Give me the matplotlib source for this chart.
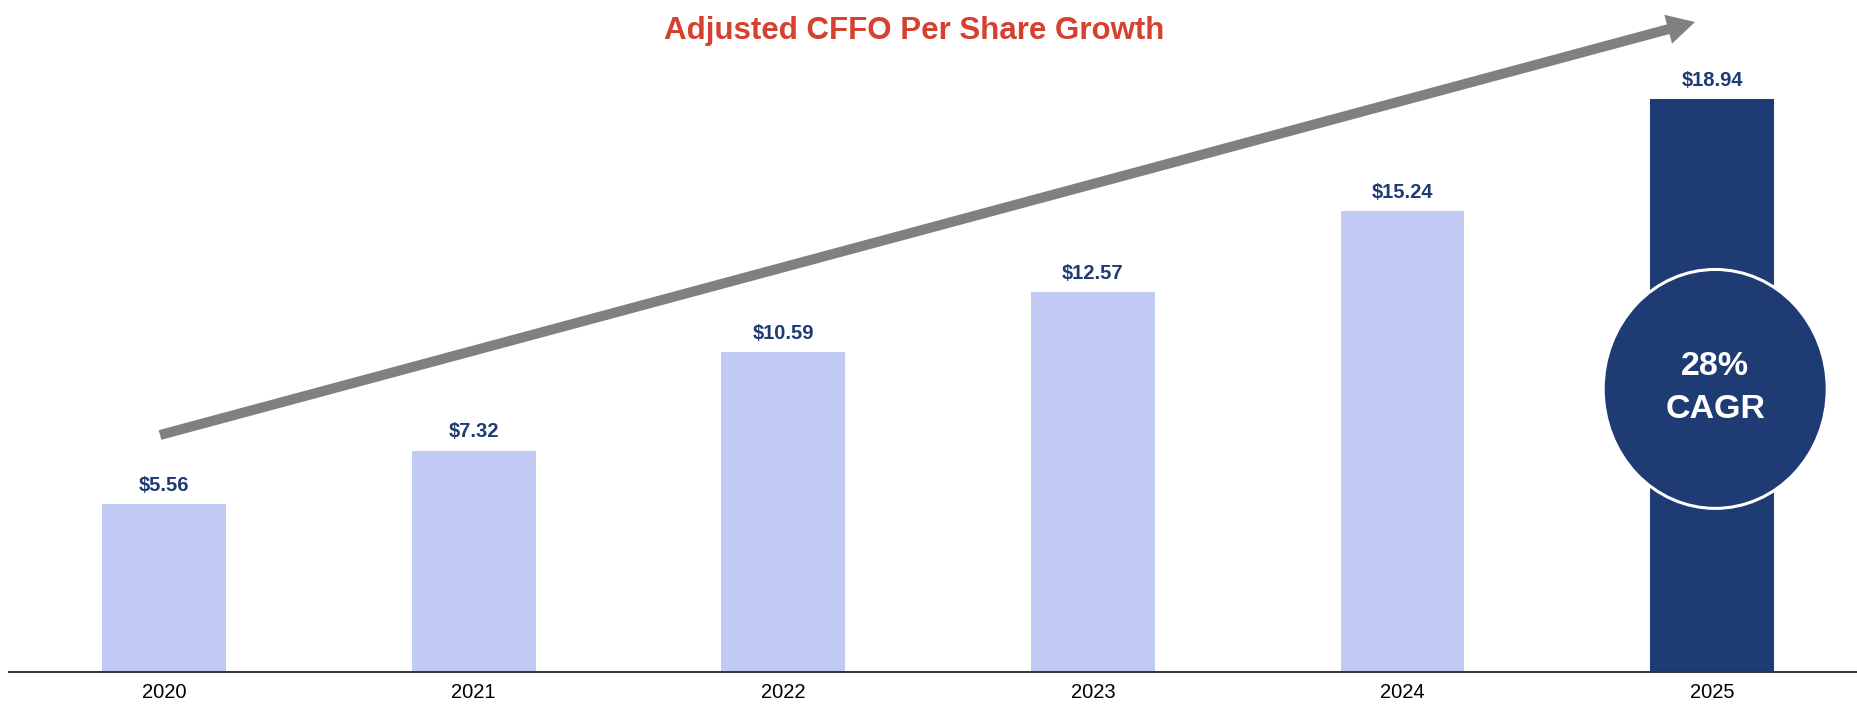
import matplotlib
matplotlib.use("Agg")
import matplotlib.pyplot as plt
from matplotlib.patches import Ellipse, FancyArrowPatch
from matplotlib.transforms import offset_copy

plt.rcParams["font.family"] = ["Liberation Sans", "DejaVu Sans"]

years = ["2020", "2021", "2022", "2023", "2024", "2025"]
cffo_per_share = [5.56, 7.32, 10.59, 12.57, 15.24, 18.94]
cagr_text = ["28%", "CAGR"]
title = "Adjusted CFFO Per Share Growth"

LIGHT = "#C0CAF2"
DARK = "#1E3C73"
RED = "#D5402F"
GREY = "#808080"

fig = plt.figure(figsize=(18.57, 7.04), dpi=100)
ax = fig.add_axes([0, 0, 1, 1])
ax.set_xlim(-0.53, 5.468)
ax.set_ylim(-1.058, 22.22)
ax.axis("off")

x = list(range(len(years)))
colors = [LIGHT] * (len(years) - 1) + [DARK]
ax.bar(x, cffo_per_share, width=0.4, color=colors, zorder=2)

# baseline
ax.axhline(0, xmin=9 / 1857, xmax=1, color="#333333", lw=1.4, zorder=3)

# value labels above bars
for xi, v in zip(x, cffo_per_share):
    ax.annotate(f"${v:.2f}", (xi, v), xytext=(0, 9.5), textcoords="offset points",
                ha="center", va="baseline", fontsize=14.5,
                fontweight="bold", color=DARK)

# year labels under the axis
for xi, yr in zip(x, years):
    ax.annotate(yr, (xi, 0), xytext=(0, -19), textcoords="offset points",
                ha="center", va="baseline", fontsize=14.5, color="black")

# growth arrow
arrow = FancyArrowPatch(
    (160, 269), (1695, 682), transform=None,
    arrowstyle="simple,head_length=20,head_width=21.5,tail_width=7.2",
    mutation_scale=1, color=GREY, lw=0, shrinkA=0, shrinkB=0, zorder=4,
)
fig.patches.append(arrow)

# CAGR bubble on the last bar
cx, cy = 5.01, 9.36
bubble = Ellipse((cx, cy), width=0.7235, height=7.9, facecolor=DARK,
                 edgecolor="white", lw=2.2, zorder=5)
ax.add_patch(bubble)
ax.text(cx, cy, cagr_text[0], transform=offset_copy(ax.transData, fig, y=16.5, units="points"),
        ha="center", va="center", fontsize=24.5, fontweight="bold",
        color="white", zorder=6)
ax.text(cx, cy, cagr_text[1], transform=offset_copy(ax.transData, fig, y=-14.8, units="points"),
        ha="center", va="center", fontsize=24.5, fontweight="bold",
        color="white", zorder=6)

fig.text(914 / 1857, 1 - 39 / 704, title, ha="center", va="baseline",
         fontsize=22.5, fontweight="bold", color=RED)

fig.savefig("out.png", dpi=100)
